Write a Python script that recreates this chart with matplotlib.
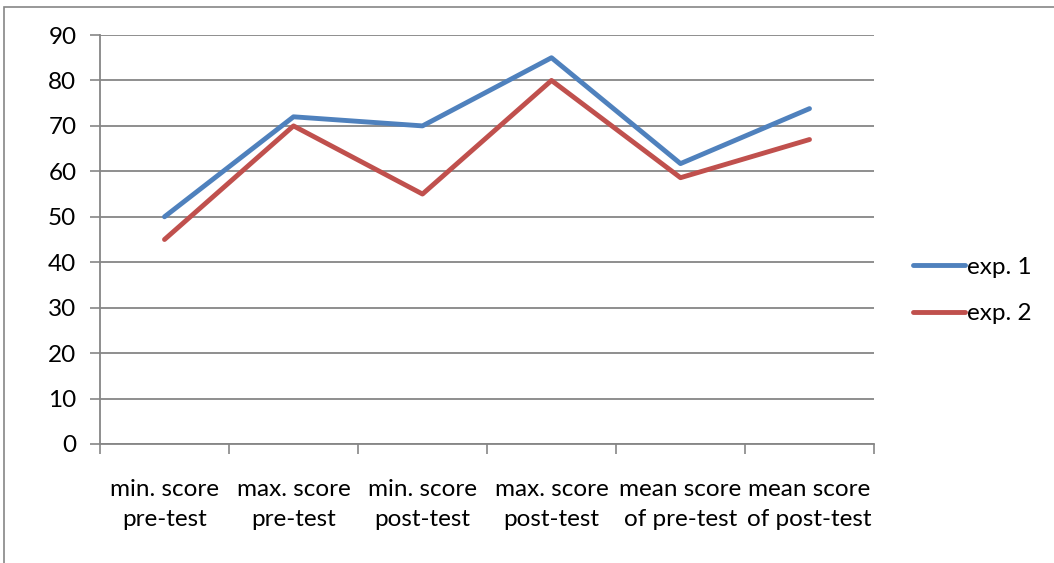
import matplotlib.pyplot as plt
from matplotlib.patches import Rectangle

categories = ['min. score\npre-test', 'max. score\npre-test', 'min. score\npost-test',
              'max. score\npost-test', 'mean score\nof pre-test', 'mean score\nof post-test']
exp1 = [50, 72, 70, 85, 61.7, 73.8]
exp2 = [45, 70, 55, 80, 58.6, 67]
yticks = [0, 10, 20, 30, 40, 50, 60, 70, 80, 90]

plt.rcParams['font.family'] = ['Lato', 'DejaVu Sans']

W, H = 1054, 563
fig = plt.figure(figsize=(W / 100, H / 100), dpi=100)
ax = fig.add_axes([100 / W, 1 - 444 / H, 774 / W, 409 / H])

# outer chart border (Excel style)
fig.patches.append(Rectangle((4 / W, -0.1), 1.2, 1.1 - 7.5 / H, transform=fig.transFigure,
                             fill=False, edgecolor='#868686', linewidth=1.2))

gray = '#868686'
fs = 17.5
x = list(range(len(categories)))
ax.plot(x, exp1, color='#4F81BD', linewidth=3.5, label='exp. 1', solid_capstyle='round')
ax.plot(x, exp2, color='#C0504D', linewidth=3.5, label='exp. 2', solid_capstyle='round')

ax.set_xlim(-0.5, len(categories) - 0.5)
ax.set_ylim(0, 90)
ax.set_yticks(yticks)
ax.yaxis.grid(True, color=gray, linewidth=1.3)
ax.set_axisbelow(True)

ax.set_xticks(x)
ax.set_xticklabels(categories, fontsize=fs, linespacing=1.55)
ax.set_xticks([i - 0.5 for i in range(len(categories) + 1)], minor=True)
ax.tick_params(axis='x', which='major', length=0, pad=25)
ax.tick_params(axis='x', which='minor', length=7, color=gray, width=1.2)
ax.tick_params(axis='y', length=7, color=gray, width=1.2, labelsize=fs, pad=10)

for s in ['top', 'right']:
    ax.spines[s].set_visible(False)
for s in ['left', 'bottom']:
    ax.spines[s].set_color(gray)
    ax.spines[s].set_linewidth(1.3)

ax.legend(loc='center left', bbox_to_anchor=(1.05, 0.375), frameon=False, fontsize=fs,
          handlelength=2.15, handletextpad=0.1, labelspacing=1.05,
          borderpad=0, borderaxespad=0)

fig.savefig('out.png', dpi=100)
